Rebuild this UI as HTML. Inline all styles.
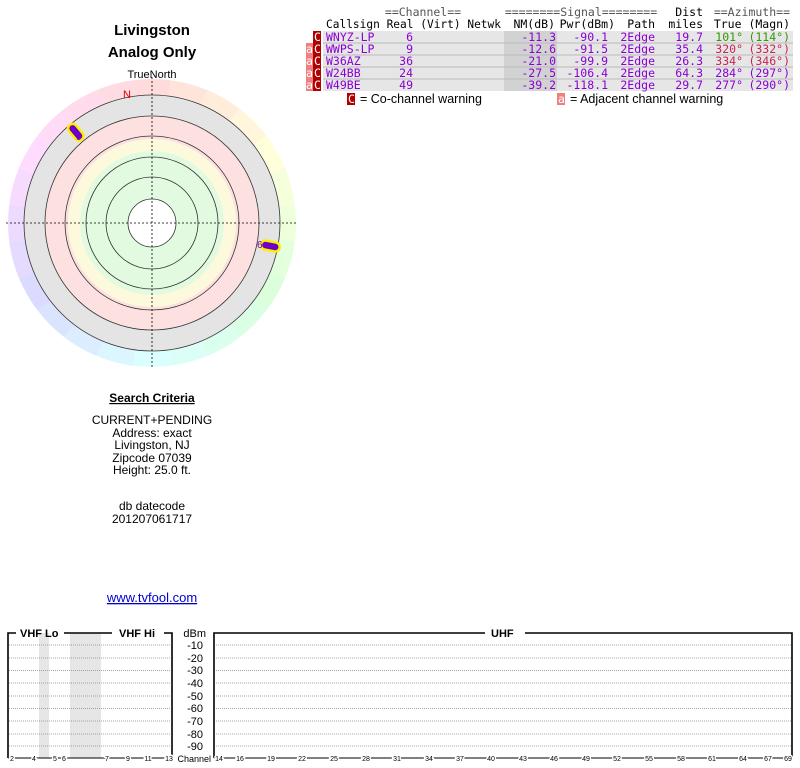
<!DOCTYPE html>
<html><head><meta charset="utf-8"><style>
body{margin:0;background:#fff;width:800px;height:768px;overflow:hidden}
svg{display:block}
.m{font-family:"DejaVu Sans Mono","Liberation Mono",monospace;font-size:11.5px}
.s{font-family:"Liberation Sans",sans-serif}
</style></head><body>
<svg width="800" height="768" xmlns="http://www.w3.org/2000/svg">
<g class="s" text-anchor="middle" fill="#000">
<text x="152" y="35" font-size="15" font-weight="bold">Livingston</text>
<text x="152" y="57" font-size="15" font-weight="bold">Analog Only</text>
<text x="152" y="78" font-size="11">TrueNorth</text>
<text x="152" y="402" font-size="12" font-weight="bold" text-decoration="underline">Search Criteria</text>
<text x="152" y="424" font-size="12">CURRENT+PENDING</text>
<text x="152" y="437" font-size="12">Address: exact</text>
<text x="152" y="449" font-size="12">Livingston, NJ</text>
<text x="152" y="462" font-size="12">Zipcode 07039</text>
<text x="152" y="474" font-size="12">Height: 25.0 ft.</text>
<text x="152" y="510" font-size="12">db datecode</text>
<text x="152" y="523" font-size="12">201207061717</text>
<text x="152" y="602" font-size="13" fill="#0000cc" text-decoration="underline">www.tvfool.com</text>
</g>
<g transform="translate(152,223)">
<g id="w"></g>
<circle r="128" fill="#e4e4e4"/>
<circle r="107" fill="#fde0e0"/>
<circle r="84" fill="#fdf9dc"/>
<circle r="72" fill="#e2fbe0"/>
<circle r="24" fill="#fff"/>
<g fill="none" stroke="#333" stroke-width="0.8">
<circle r="128"/><circle r="107"/><circle r="87"/><circle r="66"/><circle r="46"/><circle r="24"/>
</g>
<g stroke="#000" stroke-width="0.8" stroke-dasharray="2,2">
<line x1="-146" y1="0" x2="146" y2="0"/><line x1="0" y1="-146" x2="0" y2="146"/>
</g>
<text x="-25" y="-125" font-family="Liberation Sans,sans-serif" font-size="11" fill="#e00000" text-anchor="middle">N</text>
<g transform="rotate(-40)">
<rect x="-4.5" y="-128" width="9" height="19" rx="4.5" fill="#6a00c8" stroke="#ffee00" stroke-width="2.5"/>
</g>
<text x="-76" y="-83" font-family="Liberation Sans,sans-serif" font-size="10" fill="#7a00cc">9</text>
<g transform="rotate(101)">
<rect x="-4.5" y="-130" width="9" height="19" rx="4.5" fill="#6a00c8" stroke="#ffee00" stroke-width="2.5"/>
</g>
<text x="105" y="25" font-family="Liberation Sans,sans-serif" font-size="10" fill="#7a00cc">6</text>
</g>
<rect x="323" y="31" width="470" height="60" fill="#e6e6e6"/>
<rect x="504" y="31" width="53" height="60" fill="#d2d2d2"/>
<g stroke="#bbb" stroke-width="1"><line x1="323" y1="43" x2="793" y2="43"/><line x1="323" y1="55" x2="793" y2="55"/><line x1="323" y1="67" x2="793" y2="67"/><line x1="323" y1="79" x2="793" y2="79"/></g>
<rect x="313" y="31" width="8" height="12" fill="#b00000"/>
<rect x="306" y="43" width="7" height="48" fill="#f08080"/>
<rect x="313" y="43" width="8" height="48" fill="#b00000"/>
<g class="m" fill="#fff"><text x="314" y="41">C</text><text x="314" y="53">C</text><text x="314" y="65">C</text><text x="314" y="77">C</text><text x="314" y="89">C</text>
<text x="306" y="53">a</text><text x="306" y="65">a</text><text x="306" y="77">a</text><text x="306" y="89">a</text></g>
<g class="m" fill="#000">
<text x="423" y="16" text-anchor="middle" fill="#555">==Channel==</text>
<text x="581" y="16" text-anchor="middle" fill="#555">========Signal========</text>
<text x="703" y="16" text-anchor="end">Dist</text>
<text x="790" y="16" text-anchor="end" fill="#555">==Azimuth==</text>
<text x="326" y="28" textLength="175" lengthAdjust="spacingAndGlyphs">Callsign Real (Virt) Netwk</text>
<text x="555" y="28" text-anchor="end">NM(dB)</text>
<text x="615" y="28" text-anchor="end">Pwr(dBm)</text>
<text x="655" y="28" text-anchor="end">Path</text>
<text x="703" y="28" text-anchor="end">miles</text>
<text x="790" y="28" text-anchor="end">True (Magn)</text>
</g>
<g class="m" fill="#8a00d4">
<text x="326" y="41">WNYZ-LP</text><text x="326" y="53">WWPS-LP</text><text x="326" y="65">W36AZ</text><text x="326" y="77">W24BB</text><text x="326" y="89">W49BE</text>
<g text-anchor="end">
<text x="413" y="41">6</text><text x="413" y="53">9</text><text x="413" y="65">36</text><text x="413" y="77">24</text><text x="413" y="89">49</text>
<text x="556" y="41">-11.3</text><text x="556" y="53">-12.6</text><text x="556" y="65">-21.0</text><text x="556" y="77">-27.5</text><text x="556" y="89">-39.2</text>
<text x="608" y="41">-90.1</text><text x="608" y="53">-91.5</text><text x="608" y="65">-99.9</text><text x="608" y="77">-106.4</text><text x="608" y="89">-118.1</text>
<text x="655" y="41">2Edge</text><text x="655" y="53">2Edge</text><text x="655" y="65">2Edge</text><text x="655" y="77">2Edge</text><text x="655" y="89">2Edge</text>
<text x="703" y="41">19.7</text><text x="703" y="53">35.4</text><text x="703" y="65">26.3</text><text x="703" y="77">64.3</text><text x="703" y="89">29.7</text>
<text x="743" y="41" fill="#339900">101°</text><text x="743" y="53" fill="#cc2255">320°</text><text x="743" y="65" fill="#cc2255">334°</text><text x="743" y="77">284°</text><text x="743" y="89">277°</text>
<text x="790" y="41" fill="#339900">(114°)</text><text x="790" y="53" fill="#cc2255">(332°)</text><text x="790" y="65" fill="#cc2255">(346°)</text><text x="790" y="77">(297°)</text><text x="790" y="89">(290°)</text>
</g></g>
<rect x="347" y="93" width="8" height="12" fill="#b00000"/><text class="m" x="348" y="103" fill="#fff">C</text>
<text class="s" x="360" y="103" font-size="12.5">= Co-channel warning</text>
<rect x="557" y="93" width="8" height="12" fill="#f08080"/><text class="m" x="558" y="103" fill="#fff">a</text>
<text class="s" x="570" y="103" font-size="12.5">= Adjacent channel warning</text>
<rect x="39" y="633" width="10" height="125" fill="#e6e6e6"/>
<rect x="70" y="633" width="31" height="125" fill="#e6e6e6"/>
<g stroke="#888" stroke-width="0.7" stroke-dasharray="1,1">
<line x1="9" x2="171" y1="645" y2="645"/><line x1="9" x2="171" y1="658" y2="658"/><line x1="9" x2="171" y1="670.5" y2="670.5"/><line x1="9" x2="171" y1="683" y2="683"/><line x1="9" x2="171" y1="696" y2="696"/><line x1="9" x2="171" y1="708.5" y2="708.5"/><line x1="9" x2="171" y1="721" y2="721"/><line x1="9" x2="171" y1="734" y2="734"/><line x1="9" x2="171" y1="746" y2="746"/>
<line x1="214" x2="791" y1="645" y2="645"/><line x1="214" x2="791" y1="658" y2="658"/><line x1="214" x2="791" y1="670.5" y2="670.5"/><line x1="214" x2="791" y1="683" y2="683"/><line x1="214" x2="791" y1="696" y2="696"/><line x1="214" x2="791" y1="708.5" y2="708.5"/><line x1="214" x2="791" y1="721" y2="721"/><line x1="214" x2="791" y1="734" y2="734"/><line x1="214" x2="791" y1="746" y2="746"/>
</g>
<g fill="none" stroke="#000" stroke-width="1.6">
<polyline points="8,758 8,633 16,633"/><polyline points="64,633 112,633"/><polyline points="164,633 172,633 172,758"/>
<polyline points="214,758 214,633 485,633"/><polyline points="525,633 792,633 792,758"/>
<line x1="8" y1="758" x2="172" y2="758" stroke-width="1"/><line x1="214" y1="758" x2="792" y2="758" stroke-width="1"/>
</g>
<g class="s" font-size="11" font-weight="bold"><text x="20" y="637">VHF Lo</text><text x="119" y="637">VHF Hi</text><text x="491" y="637">UHF</text></g>
<g class="s" font-size="11" text-anchor="end"><text x="206" y="637">dBm</text><text x="203" y="649">-10</text><text x="203" y="662">-20</text><text x="203" y="674">-30</text><text x="203" y="687">-40</text><text x="203" y="700">-50</text><text x="203" y="712">-60</text><text x="203" y="725">-70</text><text x="203" y="738">-80</text><text x="203" y="750">-90</text>
<text x="211" y="762" font-size="9">Channel</text></g>
<g class="s" font-size="7" text-anchor="middle" stroke="#fff" stroke-width="3" paint-order="stroke" fill="#000">
<text x="12" y="761">2</text><text x="34" y="761">4</text><text x="55" y="761">5</text><text x="64" y="761">6</text><text x="107" y="761">7</text><text x="128" y="761">9</text><text x="148" y="761">11</text><text x="169" y="761">13</text>
<text x="219" y="761">14</text><text x="240" y="761">16</text><text x="271" y="761">19</text><text x="302" y="761">22</text><text x="334" y="761">25</text><text x="366" y="761">28</text><text x="397" y="761">31</text><text x="429" y="761">34</text><text x="460" y="761">37</text><text x="491" y="761">40</text><text x="523" y="761">43</text><text x="554" y="761">46</text><text x="586" y="761">49</text><text x="617" y="761">52</text><text x="649" y="761">55</text><text x="681" y="761">58</text><text x="712" y="761">61</text><text x="743" y="761">64</text><text x="768" y="761">67</text><text x="788" y="761">69</text>
</g>
</svg>
<script>
(function(){var g=document.getElementById('w'),ns='http://www.w3.org/2000/svg',n=24;
for(var i=0;i<n;i++){var a0=(i-0.5)*2*Math.PI/n,a1=(i+0.5)*2*Math.PI/n,R=144;
var p=document.createElementNS(ns,'path');
p.setAttribute('d','M0,0L'+(R*Math.sin(a0))+','+(-R*Math.cos(a0))+'A'+R+','+R+' 0 0 1 '+(R*Math.sin(a1))+','+(-R*Math.cos(a1))+'Z');
p.setAttribute('fill','hsl('+(i*360/n)+',100%,93%)');g.appendChild(p);}})();
</script>
</body></html>
